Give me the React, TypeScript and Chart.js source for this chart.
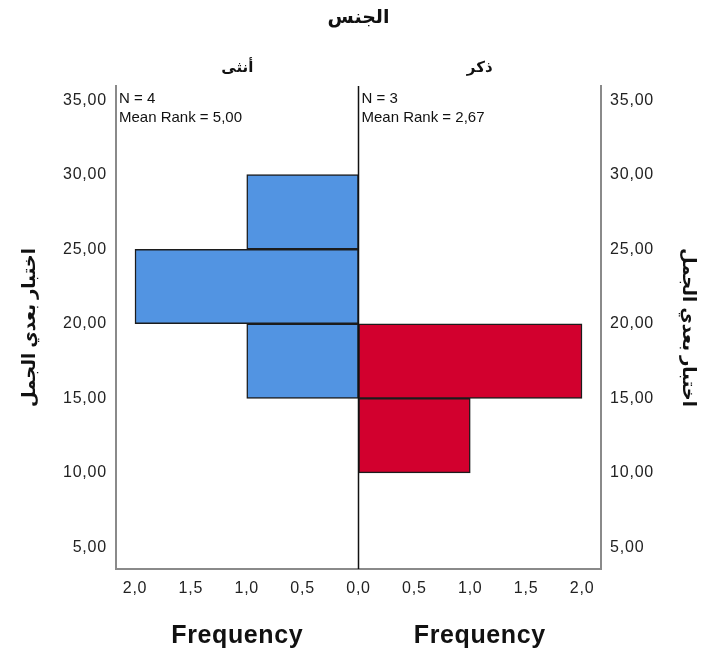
import React, { useEffect, useRef } from 'react';
import { Chart, registerables } from 'chart.js';
Chart.register(...registerables);

const FONT = "'Liberation Sans', Arial, 'DejaVu Sans', sans-serif";

const femaleBins = [17.5, 22.5, 27.5];
const femaleFreq = [1, 2, 1];
const maleBins = [12.5, 17.5];
const maleFreq = [1, 2];
const yTicks = [5, 10, 15, 20, 25, 30, 35];
const xTicks = [-2, -1.5, -1, -0.5, 0, 0.5, 1, 1.5, 2];
const groupTitle = 'الجنس';
const panelLabels = ['أنثى', 'ذكر'];
const panelStats = [
  ['N = 4', 'Mean Rank = 5,00'],
  ['N = 3', 'Mean Rank = 2,67'],
];
const yTitle = 'اختبار بعدي الجمل';
const xTitle = 'Frequency';

const annotPlugin = {
  id: 'annot',
  beforeDraw(chart: any) {
    chart.ctx.letterSpacing = '0.8px';
  },
  afterDatasetsDraw(chart: any) {
    const { ctx, chartArea: a, scales } = chart;
    const x0 = scales.x.getPixelForValue(0);
    ctx.save();
    ctx.strokeStyle = '#111';
    ctx.lineWidth = 1.5;
    ctx.beginPath();
    ctx.moveTo(x0, a.top);
    ctx.lineTo(x0, a.bottom);
    ctx.stroke();
    ctx.restore();
  },
  afterDraw(chart: any) {
    const { ctx, chartArea: a, scales } = chart;
    const x0 = scales.x.getPixelForValue(0);
    const leftMid = (a.left + x0) / 2;
    const rightMid = (x0 + a.right) / 2;
    ctx.save();
    ctx.letterSpacing = '0px';
    ctx.fillStyle = '#111';
    ctx.textBaseline = 'middle';
    ctx.textAlign = 'center';
    ctx.font = `bold 19px ${FONT}`;
    ctx.fillText(groupTitle, x0, 18);
    ctx.font = `bold 15px ${FONT}`;
    ctx.fillText(panelLabels[0], leftMid, 68);
    ctx.fillText(panelLabels[1], rightMid, 68);
    ctx.font = `15px ${FONT}`;
    ctx.textAlign = 'left';
    ctx.fillText(panelStats[0][0], a.left + 3, 99);
    ctx.fillText(panelStats[0][1], a.left + 3, 118);
    ctx.fillText(panelStats[1][0], x0 + 3, 99);
    ctx.fillText(panelStats[1][1], x0 + 3, 118);
    ctx.textAlign = 'center';
    ctx.letterSpacing = '0.6px';
    ctx.font = `bold 25px ${FONT}`;
    ctx.fillText(xTitle, leftMid, 636);
    ctx.fillText(xTitle, rightMid, 636);
    ctx.letterSpacing = '0px';
    const yMid = (a.top + a.bottom) / 2;
    ctx.font = `bold 18px ${FONT}`;
    ctx.save();
    ctx.translate(30, yMid);
    ctx.rotate(-Math.PI / 2);
    ctx.fillText(yTitle, 0, 0);
    ctx.restore();
    ctx.save();
    ctx.translate(688, yMid);
    ctx.rotate(Math.PI / 2);
    ctx.fillText(yTitle, 0, 0);
    ctx.restore();
    ctx.restore();
  },
};

const fmtY = (v: number) => v.toFixed(2).replace('.', ',');
const fmtX = (v: number) => Math.abs(v).toFixed(1).replace('.', ',');

export default function App() {
  const ref = useRef<HTMLCanvasElement | null>(null);
  useEffect(() => {
    if (!ref.current) return;
    const tickFont = { family: FONT, size: 16 };
    const yScaleBase = {
      type: 'linear',
      min: 3.55,
      max: 35.95,
      offset: false,
      grid: { display: false, drawTicks: false, offset: false },
      border: { display: true, color: '#8a8a8a', width: 2 },
      afterBuildTicks: (s: any) => {
        s.ticks = yTicks.map((v) => ({ value: v }));
      },
      ticks: { font: tickFont, color: '#222', padding: 9, callback: (v: any) => fmtY(Number(v)) },
    };
    const chart = new Chart(ref.current, {
      type: 'bar',
      data: {
        datasets: [
          {
            label: panelLabels[0],
            data: femaleBins.map((b, i) => ({ y: b, x: -femaleFreq[i] })),
            backgroundColor: '#5294E2',
            borderColor: '#1c1c1c',
            borderWidth: 1.5,
            borderSkipped: false,
            grouped: false,
            barPercentage: 1,
            categoryPercentage: 1,
          },
          {
            label: panelLabels[1],
            data: maleBins.map((b, i) => ({ y: b, x: maleFreq[i] })),
            backgroundColor: '#D2002E',
            borderColor: '#1c1c1c',
            borderWidth: 1.5,
            borderSkipped: false,
            grouped: false,
            barPercentage: 1,
            categoryPercentage: 1,
          },
        ],
      } as any,
      options: {
        indexAxis: 'y',
        responsive: false,
        animation: false,
        devicePixelRatio: 1,
        layout: { padding: { top: 86, left: 0, right: 0, bottom: 0 } },
        plugins: { legend: { display: false }, tooltip: { enabled: false }, title: { display: false } },
        scales: {
          x: {
            type: 'linear',
            min: -2.17,
            max: 2.17,
            offset: false,
            grid: { display: false, drawTicks: false },
            border: { display: true, color: '#8a8a8a', width: 2 },
            afterBuildTicks: (s: any) => {
              s.ticks = xTicks.map((v) => ({ value: v }));
            },
            afterFit: (s: any) => {
              s.height = 84;
            },
            ticks: { font: tickFont, color: '#222', padding: 10, maxRotation: 0, autoSkip: false, callback: (v: any) => fmtX(Number(v)) },
          },
          y: {
            ...yScaleBase,
            position: 'left',
            afterFit: (s: any) => {
              s.width = 116;
            },
          },
          y2: {
            ...yScaleBase,
            position: 'right',
            afterFit: (s: any) => {
              s.width = 101;
            },
          },
        },
      } as any,
      plugins: [annotPlugin],
    });
    return () => chart.destroy();
  }, []);
  return (
    <div style={{ position: 'fixed', left: 0, top: 0, width: 702, height: 653, background: '#fff' }}>
      <canvas ref={ref} width={702} height={653} />
    </div>
  );
}
